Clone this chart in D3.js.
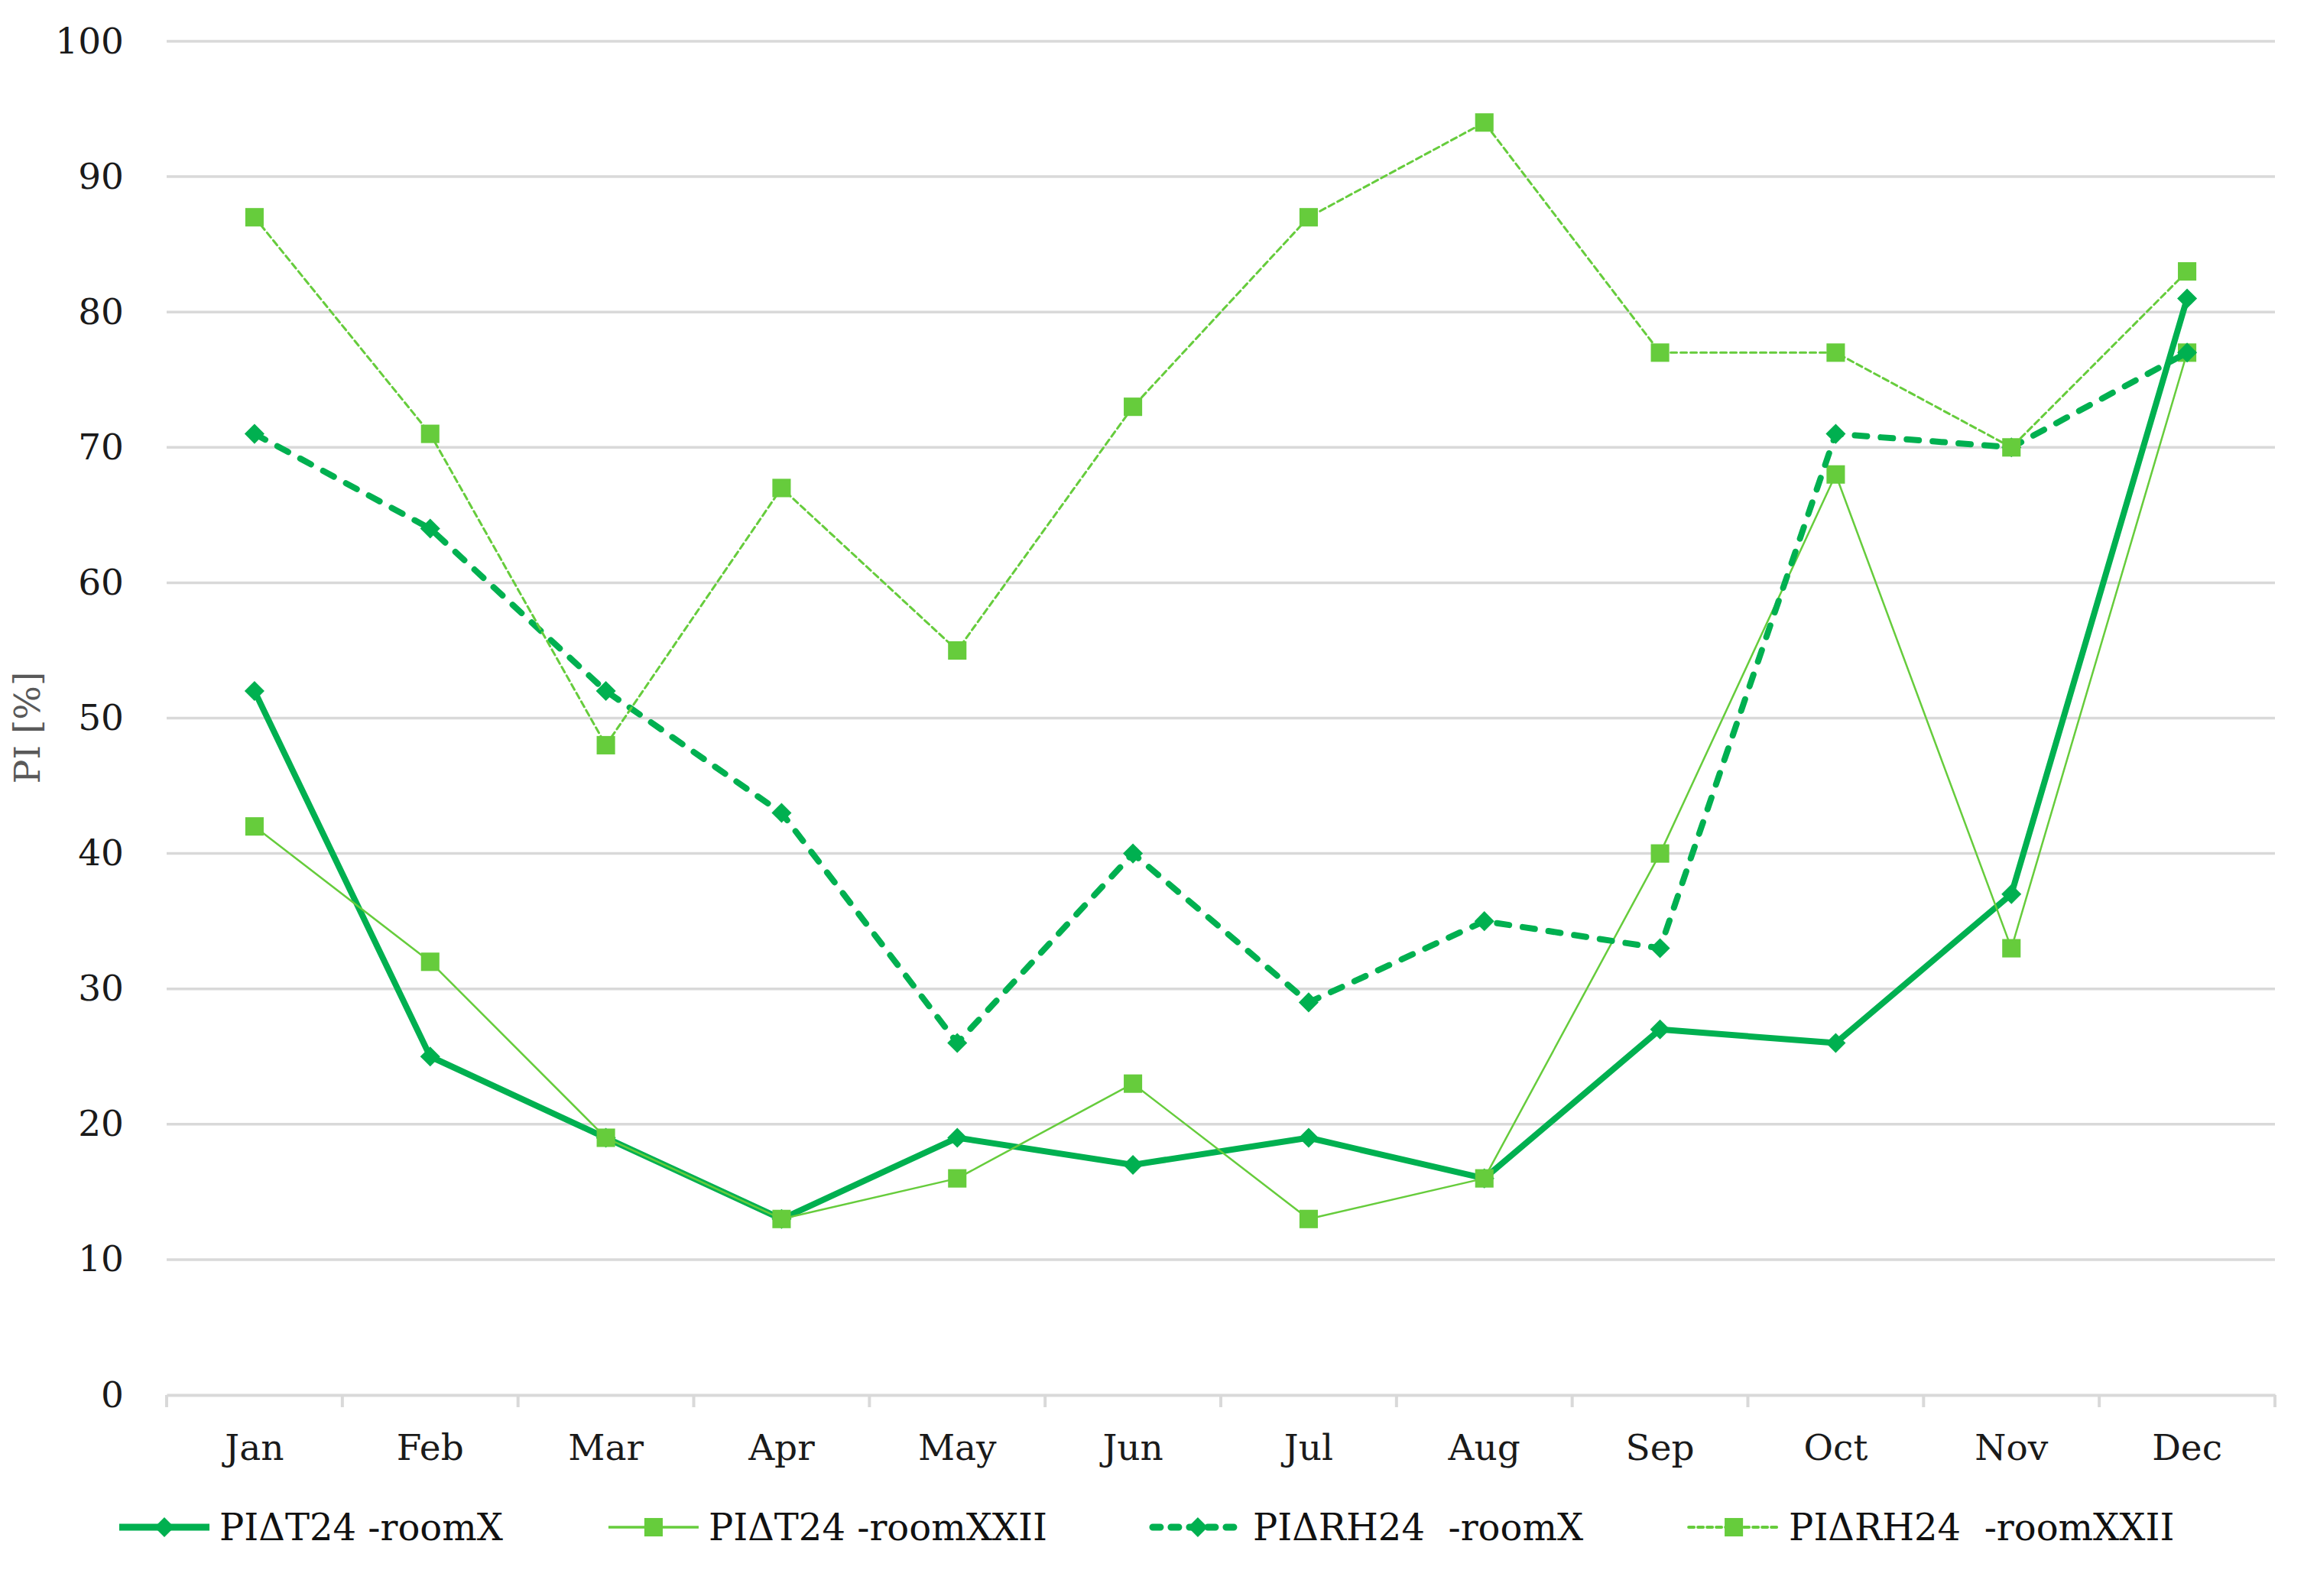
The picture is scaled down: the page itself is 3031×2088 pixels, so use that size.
<!DOCTYPE html>
<html lang="en">
<head>
<meta charset="UTF-8">
<title>PI chart</title>
<script src="https://d3js.org/d3.v7.min.js"></script>
<style>
  body { margin: 0; background: #fff; }
  text { font-family: "DejaVu Serif", "Liberation Serif", serif; }
</style>
</head>
<body>
<div id="chart"></div>
<script>
// Data
const months = ["Jan", "Feb", "Mar", "Apr", "May", "Jun", "Jul", "Aug", "Sep", "Oct", "Nov", "Dec"];
const yTicks = [0, 10, 20, 30, 40, 50, 60, 70, 80, 90, 100];
const seriesNames = ["PI\u0394T24 -roomX", "PI\u0394T24 -roomXXII", "PI\u0394RH24  -roomX", "PI\u0394RH24  -roomXXII"];
const t24RoomX    = [52, 25, 19, 13, 19, 17, 19, 16, 27, 26, 37, 81];
const t24RoomXXII = [42, 32, 19, 13, 16, 23, 13, 16, 40, 68, 33, 77];
const rh24RoomX   = [71, 64, 52, 43, 26, 40, 29, 35, 33, 71, 70, 77];
const rh24RoomXXII = [87, 71, 48, 67, 55, 73, 87, 94, 77, 77, 70, 83];

const dark = "#00b050", light = "#66cc3c";
const styles = [
  { color: dark,  width: 8, dash: null,    marker: "diamond" },
  { color: light, width: 2.5, dash: null,  marker: "square" },
  { color: dark,  width: 8, dash: "16,18", marker: "diamond" },
  { color: light, width: 3, dash: "8,5",   marker: "square" }
];
const seriesValues = [t24RoomX, t24RoomXXII, rh24RoomX, rh24RoomXXII];

const W = 3031, H = 2088;
const plotLeft = 218, plotRight = 2976, plotTop = 54, plotBottom = 1825;
const fontSize = 47;

const svg = d3.select("#chart").append("svg")
  .attr("width", W).attr("height", H);

const x = d3.scaleBand().domain(months).range([plotLeft, plotRight]).padding(0);
const y = d3.scaleLinear().domain([0, 100]).range([plotBottom, plotTop]);

// gridlines
svg.append("g")
  .selectAll("line")
  .data(yTicks.filter(d => d > 0))
  .enter().append("line")
  .attr("x1", plotLeft).attr("x2", plotRight)
  .attr("y1", d => y(d)).attr("y2", d => y(d))
  .attr("stroke", "#d9d9d9").attr("stroke-width", 3.5);

// y axis labels
const yAxis = svg.append("g")
  .attr("transform", `translate(${plotLeft},0)`)
  .call(d3.axisLeft(y).tickValues(yTicks).tickSize(0).tickPadding(56));
yAxis.select(".domain").remove();
yAxis.selectAll("text")
  .style("font-family", "'DejaVu Serif', serif")
  .attr("font-size", fontSize).attr("fill", "#1a1a1a");

// x axis
const xAxis = svg.append("g")
  .attr("transform", `translate(0,${plotBottom})`)
  .call(d3.axisBottom(x).tickSize(0).tickPadding(52));
xAxis.select(".domain").attr("stroke", "#d9d9d9").attr("stroke-width", 4);
xAxis.selectAll("text")
  .style("font-family", "'DejaVu Serif', serif")
  .attr("font-size", fontSize).attr("fill", "#1a1a1a");
// tick marks on band boundaries
xAxis.append("g")
  .selectAll("line")
  .data(months.concat(["end"]))
  .enter().append("line")
  .attr("x1", (d, i) => i < months.length ? x(d) : plotRight)
  .attr("x2", (d, i) => i < months.length ? x(d) : plotRight)
  .attr("y1", 0).attr("y2", 16)
  .attr("stroke", "#d9d9d9").attr("stroke-width", 4);

// y axis title
svg.append("text")
  .attr("transform", `translate(52,952) rotate(-90)`)
  .attr("text-anchor", "middle")
  .attr("font-size", fontSize)
  .attr("fill", "#595959")
  .text("PI [%]");

const diamond = d3.symbol().type(d3.symbolSquare).size(340);
const square = d3.symbol().type(d3.symbolSquare).size(580);
function markerPath(m) { return m === "diamond" ? diamond() : square(); }
function markerRot(m) { return m === "diamond" ? " rotate(45)" : ""; }

const line = d3.line()
  .x((d, i) => x(months[i]) + x.bandwidth() / 2)
  .y(d => y(d));

seriesValues.forEach((vals, k) => {
  const s = styles[k];
  const g = svg.append("g");
  g.append("path")
    .datum(vals)
    .attr("d", line)
    .attr("fill", "none")
    .attr("stroke", s.color)
    .attr("stroke-width", s.width)
    .attr("stroke-linejoin", "round")
    .attr("stroke-linecap", s.dash ? "round" : "butt")
    .attr("stroke-dasharray", s.dash);
  g.selectAll("path.mk")
    .data(vals)
    .enter().append("path")
    .attr("class", "mk")
    .attr("d", markerPath(s.marker))
    .attr("transform", (d, i) => `translate(${x(months[i]) + x.bandwidth() / 2},${y(d)})` + markerRot(s.marker))
    .attr("fill", s.color);
});

// legend
const legendY = 1998;
let lx = 156;
seriesNames.forEach((name, k) => {
  const s = styles[k];
  const g = svg.append("g").attr("transform", `translate(${lx},${legendY})`);
  g.append("line")
    .attr("x1", 0).attr("x2", 118).attr("y1", 0).attr("y2", 0)
    .attr("stroke", s.color).attr("stroke-width", s.width + 1)
    .attr("stroke-linecap", s.dash ? "round" : "butt")
    .attr("stroke-dasharray", s.dash ? (k === 2 ? "10,14" : "7,5") : null);
  g.append("path")
    .attr("d", markerPath(s.marker))
    .attr("transform", "translate(59,0)" + markerRot(s.marker))
    .attr("fill", s.color);
  const t = g.append("text")
    .attr("x", 131).attr("y", 17)
    .attr("font-size", 48).attr("fill", "#111")
    .attr("xml:space", "preserve")
    .style("white-space", "pre")
    .text(name);
  lx += 131 + t.node().getComputedTextLength() + 138;
});
</script>
</body>
</html>
